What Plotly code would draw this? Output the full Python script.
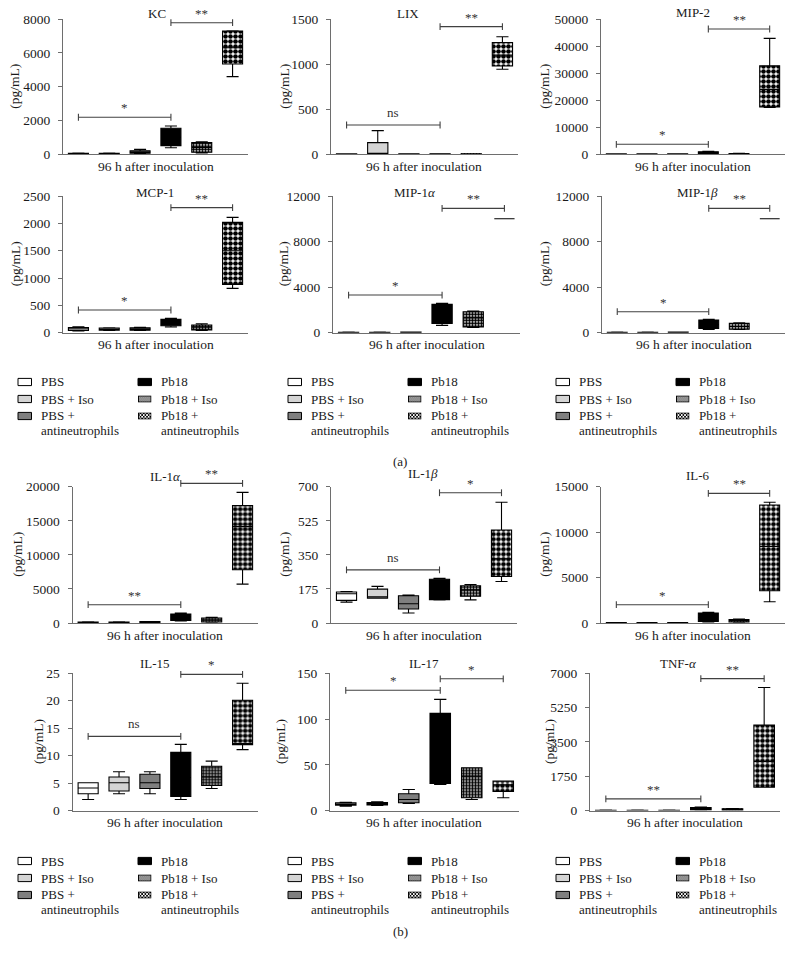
import base64
import plotly.graph_objects as go

W, H = 798, 957
FONT = "Liberation Serif"
AXC = "#6e6e6e"

groups = ["PBS", "PBS + Iso", "PBS + antineutrophils", "Pb18", "Pb18 + Iso", "Pb18 + antineutrophils"]
fills = ["white", "#d4d4d4", "#7f7f7f", "black", None, None]

# ---------------- data (min, q1, median, q3, max per group) ----------------
kc_min = [10, 15, 40, 390, 80, 4590]
kc_q1 = [20, 25, 60, 510, 120, 5340]
kc_med = [35, 40, 130, 1000, 400, 6300]
kc_q3 = [55, 60, 210, 1540, 690, 7290]
kc_max = [70, 75, 290, 1670, 740, 7300]
kc_ticks = [0, 2000, 4000, 6000, 8000]
kc_sig = [(0, 3, 2190, "*"), (3, 5, 7780, "**")]

lix_min = [0, 0, 0, 0, 0, 943]
lix_q1 = [0, 0, 0, 0, 0, 979]
lix_med = [2, 0, 2, 2, 2, 1100]
lix_q3 = [5, 129, 5, 5, 5, 1238]
lix_max = [6, 262, 6, 6, 6, 1304]
lix_ticks = [0, 500, 1000, 1500]
lix_sig = [(0, 3, 325, "ns"), (3, 5, 1415, "**")]

mip2_min = [50, 50, 50, 200, 50, 17300]
mip2_q1 = [80, 80, 80, 300, 100, 17500]
mip2_med = [120, 120, 120, 600, 200, 24000]
mip2_q3 = [180, 180, 180, 950, 300, 32700]
mip2_max = [220, 220, 220, 1100, 350, 42850]
mip2_ticks = [0, 10000, 20000, 30000, 40000, 50000]
mip2_sig = [(0, 3, 3700, "*"), (3, 5, 46300, "**")]

mcp1_min = [30, 40, 40, 104, 43, 811]
mcp1_q1 = [40, 45, 45, 128, 50, 884]
mcp1_med = [70, 60, 65, 190, 100, 1500]
mcp1_q3 = [95, 85, 90, 244, 140, 2018]
mcp1_max = [110, 90, 100, 262, 165, 2110]
mcp1_ticks = [0, 500, 1000, 1500, 2000, 2500]
mcp1_sig = [(0, 3, 415, "*"), (3, 5, 2287, "**")]

mip1a_min = [10, 10, 10, 644, 468, 10000]
mip1a_q1 = [20, 20, 20, 820, 500, 10000]
mip1a_med = [30, 30, 30, 1600, 1300, 10000]
mip1a_q3 = [40, 40, 50, 2488, 1844, 10000]
mip1a_max = [50, 50, 60, 2576, 1900, 10000]
mip1a_ticks = [0, 4000, 8000, 12000]
mip1a_sig = [(0, 3, 3307, "*"), (3, 5, 10918, "**")]

mip1b_min = [10, 10, 10, 293, 293, 10000]
mip1b_q1 = [20, 20, 20, 380, 300, 10000]
mip1b_med = [30, 30, 30, 700, 550, 10000]
mip1b_q3 = [40, 40, 50, 1112, 820, 10000]
mip1b_max = [50, 50, 60, 1170, 878, 10000]
mip1b_ticks = [0, 4000, 8000, 12000]
mip1b_sig = [(0, 3, 1844, "*"), (3, 5, 10918, "**")]

il1a_min = [40, 40, 40, 293, 100, 5707]
il1a_q1 = [60, 50, 70, 390, 146, 7805]
il1a_med = [90, 80, 120, 900, 450, 14146]
il1a_q3 = [150, 130, 200, 1317, 732, 17220]
il1a_max = [180, 160, 230, 1463, 830, 19170]
il1a_ticks = [0, 5000, 10000, 15000, 20000]
il1a_sig = [(0, 3, 2683, "**"), (3, 5, 20488, "**")]

il1b_min = [107, 128, 51, 119, 119, 213]
il1b_q1 = [116, 128, 72, 120, 137, 239]
il1b_med = [150, 135, 99, 200, 170, 330]
il1b_q3 = [159, 174, 140, 225, 191, 478]
il1b_max = [162, 188, 143, 230, 198, 620]
il1b_ticks = [0, 175, 350, 525, 700]
il1b_sig = [(0, 3, 273, "ns"), (3, 5, 669, "*")]

il6_min = [10, 10, 10, 110, 100, 2342]
il6_q1 = [20, 20, 20, 183, 110, 3549]
il6_med = [30, 30, 30, 600, 250, 8416]
il6_q3 = [40, 40, 40, 1098, 366, 12990]
il6_max = [50, 50, 50, 1171, 440, 13282]
il6_ticks = [0, 5000, 10000, 15000]
il6_sig = [(0, 3, 2012, "*"), (3, 5, 14270, "**")]

il15_min = [2.0, 3.05, 3.05, 2.0, 4.0, 11.1]
il15_q1 = [3.05, 3.55, 4.0, 2.55, 4.55, 12.0]
il15_med = [4.1, 5.05, 5.05, 6.0, 6.1, 12.0]
il15_q3 = [5.05, 6.1, 6.6, 10.6, 8.05, 20.1]
il15_max = [5.05, 7.05, 7.05, 12.05, 9.0, 23.2]
il15_ticks = [0, 5, 10, 15, 20, 25]
il15_sig = [(0, 3, 13.5, "ns"), (3, 5, 24.8, "*")]

il17_min = [4.7, 5.5, 7.7, 28.5, 12, 13.9]
il17_q1 = [5.8, 6.2, 8.4, 29.6, 13.9, 20.8]
il17_med = [7, 7.5, 12, 60, 37.6, 28]
il17_q3 = [8.4, 8.8, 18.3, 106.2, 46.7, 32.1]
il17_max = [9.1, 9.5, 23, 121.5, 46.7, 32.1]
il17_ticks = [0, 50, 100, 150]
il17_sig = [(0, 3, 131.4, "*"), (3, 5, 144, "*")]

tnf_min = [5, 5, 5, 20, 10, 1186]
tnf_q1 = [8, 8, 8, 30, 20, 1186]
tnf_med = [10, 10, 10, 100, 50, 2500]
tnf_q3 = [15, 15, 15, 150, 85, 4356]
tnf_max = [20, 20, 20, 170, 95, 6272]
tnf_ticks = [0, 1750, 3500, 5250, 7000]
tnf_sig = [(0, 3, 593, "**"), (3, 5, 6729, "**")]

# ---------------- layout of panels (pixel boxes) ----------------
panels = [
    dict(title="KC", d=(kc_min, kc_q1, kc_med, kc_q3, kc_max), ticks=kc_ticks, sig=kc_sig,
         x0=63, x1=248, top=19, bot=154.3, tx=157, ty=13.3, lx=15),
    dict(title="LIX", d=(lix_min, lix_q1, lix_med, lix_q3, lix_max), ticks=lix_ticks, sig=lix_sig,
         x0=331, x1=518, top=19, bot=154.3, tx=408, ty=13.3, lx=285),
    dict(title="MIP-2", d=(mip2_min, mip2_q1, mip2_med, mip2_q3, mip2_max), ticks=mip2_ticks, sig=mip2_sig,
         x0=601, x1=785, top=19, bot=154.3, tx=693, ty=12.7, lx=545),
    dict(title="MCP-1", d=(mcp1_min, mcp1_q1, mcp1_med, mcp1_q3, mcp1_max), ticks=mcp1_ticks, sig=mcp1_sig,
         x0=63, x1=248, top=196, bot=332.7, tx=155, ty=192.7, lx=15),
    dict(title="MIP-1<i>α</i>", d=(mip1a_min, mip1a_q1, mip1a_med, mip1a_q3, mip1a_max), ticks=mip1a_ticks, sig=mip1a_sig,
         x0=333, x1=520, top=196, bot=332.7, tx=415, ty=192.7, lx=283),
    dict(title="MIP-1<i>β</i>", d=(mip1b_min, mip1b_q1, mip1b_med, mip1b_q3, mip1b_max), ticks=mip1b_ticks, sig=mip1b_sig,
         x0=602, x1=785, top=196, bot=332.7, tx=697, ty=192.7, lx=544),
    dict(title="IL-1<i>α</i>", d=(il1a_min, il1a_q1, il1a_med, il1a_q3, il1a_max), ticks=il1a_ticks, sig=il1a_sig,
         x0=72.7, x1=258, top=486.7, bot=623, tx=165, ty=476.7, lx=18),
    dict(title="IL-1<i>β</i>", d=(il1b_min, il1b_q1, il1b_med, il1b_q3, il1b_max), ticks=il1b_ticks, sig=il1b_sig,
         x0=331, x1=517, top=486.7, bot=623, tx=423, ty=473.5, lx=285),
    dict(title="IL-6", d=(il6_min, il6_q1, il6_med, il6_q3, il6_max), ticks=il6_ticks, sig=il6_sig,
         x0=601, x1=785, top=486.7, bot=623, tx=698, ty=475, lx=545),
    dict(title="IL-15", d=(il15_min, il15_q1, il15_med, il15_q3, il15_max), ticks=il15_ticks, sig=il15_sig,
         x0=72.7, x1=258, top=673.3, bot=810.5, tx=155, ty=663.3, lx=39),
    dict(title="IL-17", d=(il17_min, il17_q1, il17_med, il17_q3, il17_max), ticks=il17_ticks, sig=il17_sig,
         x0=330, x1=519, top=673.3, bot=810.5, tx=424, ty=663.3, lx=281),
    dict(title="TNF-<i>α</i>", d=(tnf_min, tnf_q1, tnf_med, tnf_q3, tnf_max), ticks=tnf_ticks, sig=tnf_sig,
         x0=590, x1=780, top=673.3, bot=810.5, tx=678, ty=663.3, lx=550),
]


def PX(x):
    return x / W


def PY(y):
    return 1 - y / H


pat_iso = dict(shape=".", bgcolor="white", fgcolor="black", size=3, solidity=0.7, fillmode="replace")
pat_anti = dict(shape=".", bgcolor="white", fgcolor="black", size=5, solidity=0.68, fillmode="replace")
patterns = {4: pat_iso, 5: pat_anti}

fig = go.Figure()
shapes, annotations, images = [], [], []
txt_font = dict(family=FONT, size=13.5, color="#1a1a1a")
title_font = dict(family=FONT, size=13, color="#1a1a1a")

for i, p in enumerate(panels, start=1):
    sfx = "" if i == 1 else str(i)
    xr, yr = "x" + sfx, "y" + sfx
    mn, q1, med, q3, mx = p["d"]
    ymax = p["ticks"][-1]

    fig.update_layout(**{
        "xaxis" + sfx: dict(domain=[PX(p["x0"]), PX(p["x1"])], range=[-0.5, 5.5], anchor=yr,
                            showticklabels=False, ticks="", showline=True, linecolor=AXC, linewidth=1.3,
                            showgrid=False, zeroline=False, fixedrange=True, automargin=False),
        "yaxis" + sfx: dict(domain=[PY(p["bot"]), PY(p["top"])], range=[0, ymax], anchor=xr,
                            tickvals=p["ticks"], ticktext=[str(t) for t in p["ticks"]],
                            ticks="outside", ticklen=4, tickcolor=AXC, tickwidth=1.2,
                            ticklabelstandoff=5, automargin=False,
                            showline=True, linecolor=AXC, linewidth=1.3, showgrid=False,
                            zeroline=False, fixedrange=True, tickfont=txt_font),
    })

    for j in range(6):
        if j in patterns:
            fig.add_trace(go.Bar(x=[j], y=[q3[j] - q1[j]], base=[q1[j]], width=0.65,
                                 marker=dict(color="white", line=dict(width=0), pattern=patterns[j]),
                                 xaxis=xr, yaxis=yr, showlegend=False, hoverinfo="skip"))
        fig.add_trace(go.Box(x=[j], q1=[q1[j]], median=[med[j]], q3=[q3[j]],
                             lowerfence=[mn[j]], upperfence=[mx[j]], width=0.65, whiskerwidth=0.6,
                             fillcolor=fills[j] if fills[j] else "rgba(0,0,0,0)",
                             line=dict(color="black", width=1.1), boxpoints=False,
                             xaxis=xr, yaxis=yr, showlegend=False, hoverinfo="skip", name=groups[j]))

    # significance brackets
    span = (p["bot"] - p["top"]) / H
    ybase = PY(p["bot"])
    for (a, b, v, lab) in p["sig"]:
        yp = ybase + v / ymax * span
        d = 3.4 / H
        bl = dict(color="#404040", width=1.1)
        shapes.append(dict(type="line", xref=xr, yref="paper", x0=a, x1=b, y0=yp, y1=yp, line=bl))
        shapes.append(dict(type="line", xref=xr, yref="paper", x0=a, x1=a, y0=yp - d, y1=yp + d, line=bl))
        shapes.append(dict(type="line", xref=xr, yref="paper", x0=b, x1=b, y0=yp - d, y1=yp + d, line=bl))
        annotations.append(dict(xref=xr, yref="paper", x=(a + b) / 2, y=yp, yanchor="bottom",
                                yshift=(3 if lab == "ns" else 0), text=lab, showarrow=False,
                                font=dict(family=FONT, size=13, color="#333")))

    # titles & axis labels
    annotations.append(dict(xref="paper", yref="paper", x=PX(p["tx"]), y=PY(p["ty"]), text=p["title"],
                            showarrow=False, xanchor="center", yanchor="middle", font=title_font))
    annotations.append(dict(xref="paper", yref="paper", x=PX(p["lx"]), y=PY((p["top"] + p["bot"]) / 2),
                            text="(pg/mL)", textangle=-90, showarrow=False, xanchor="center",
                            yanchor="middle", font=txt_font))
    annotations.append(dict(xref="paper", yref="paper", x=PX((p["x0"] + p["x1"]) / 2), y=PY(p["bot"] + 12),
                            text="96 h after inoculation", showarrow=False, xanchor="center",
                            yanchor="middle", font=txt_font))


# ---------------- legends ----------------
def svg_uri(pattern_body, pw, ph):
    svg = ("<svg xmlns='http://www.w3.org/2000/svg' width='28' height='14' viewBox='0 0 14 7'>"
           "<defs><pattern id='p' width='%s' height='%s' patternUnits='userSpaceOnUse'>%s</pattern></defs>"
           "<rect x='0.5' y='0.5' width='13' height='6' fill='url(#p)' stroke='black' stroke-width='1'/></svg>"
           % (pw, ph, pattern_body))
    return "data:image/svg+xml;base64," + base64.b64encode(svg.encode()).decode()


uri_iso = svg_uri("<rect width='2' height='2' fill='white'/><rect width='1' height='1' fill='#222'/>"
                  "<rect x='1' y='1' width='1' height='1' fill='#222'/>", 2, 2)
uri_anti = svg_uri("<rect width='3.4' height='3.4' fill='black'/><rect width='1.7' height='1.7' fill='white'/>"
                   "<rect x='1.7' y='1.7' width='1.7' height='1.7' fill='white'/>", 3.4, 3.4)

legend_cols = [(groups[0:3], fills[0:3]), (groups[3:6], [fills[3], uri_iso, uri_anti])]


def add_legend(xl, y0):
    for c, (names, sw) in enumerate(legend_cols):
        xs = xl + 120 * c
        for r, (nm, f) in enumerate(zip(names, sw)):
            yc = y0 + 17 * r
            if f.startswith("data:"):
                images.append(dict(source=f, xref="paper", yref="paper", x=PX(xs), y=PY(yc - 3.6),
                                   sizex=13.5 / W, sizey=7.2 / H, xanchor="left", yanchor="top",
                                   sizing="stretch", layer="above"))
            else:
                shapes.append(dict(type="rect", xref="paper", yref="paper", x0=PX(xs), x1=PX(xs + 13.5),
                                   y0=PY(yc + 3.6), y1=PY(yc - 3.6), fillcolor=f,
                                   line=dict(color="black", width=1)))
            lines = nm.replace("+ antineutrophils", "+|antineutrophils").split("|")
            for k, ln in enumerate(lines):
                annotations.append(dict(xref="paper", yref="paper", x=PX(xs + 22),
                                        y=PY(yc - (0.5 if len(lines) > 1 else 0) + 14.5 * k),
                                        text=ln, showarrow=False, xanchor="left", yanchor="middle",
                                        borderpad=0, font=dict(family=FONT, size=13, color="#1a1a1a")))


for y0 in (382, 861):
    for xl in (18, 288, 556):
        add_legend(xl, y0)

annotations.append(dict(xref="paper", yref="paper", x=PX(400), y=PY(461), text="(a)", showarrow=False,
                        font=title_font))
annotations.append(dict(xref="paper", yref="paper", x=PX(400), y=PY(941), text="(b)", showarrow=False,
                        font=title_font))

fig.update_layout(width=W, height=H, autosize=False, margin=dict(l=0, r=0, t=0, b=0, autoexpand=False),
                  paper_bgcolor="white", plot_bgcolor="white", barmode="overlay", boxmode="overlay",
                  showlegend=False, shapes=shapes, annotations=annotations, images=images,
                  font=dict(family=FONT, size=13, color="#1a1a1a"))

fig.write_html("out.html", config={"displayModeBar": False},
               post_script="document.body.style.margin='0';document.body.style.padding='0';")
